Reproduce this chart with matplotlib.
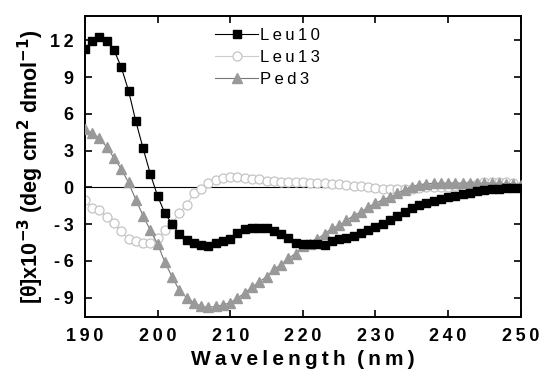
import matplotlib.pyplot as plt
import numpy as np

plt.rcParams['font.family'] = ['Liberation Sans', 'DejaVu Sans']

# wavelength (nm)
wl = np.arange(190, 251)

# [theta] x 10^-3
leu10 = [11.3, 11.95, 12.3, 11.95, 11.2, 9.8, 7.9, 5.4, 3.2, 1.1,
         -0.7, -2.1, -3.0, -3.8, -4.3, -4.5, -4.7, -4.75, -4.55, -4.4,
         -4.25, -3.75, -3.4, -3.35, -3.3, -3.3, -3.6, -3.8, -4.15, -4.5,
         -4.65, -4.6, -4.6, -4.7, -4.4, -4.25, -4.1, -3.95, -3.75, -3.5,
         -3.2, -3.0, -2.65, -2.35, -2.0, -1.7, -1.45, -1.25, -1.1, -0.95,
         -0.8, -0.7, -0.55, -0.45, -0.3, -0.2, -0.15, -0.1, -0.05, -0.05,
         -0.05]
leu13 = [-1.0, -1.7, -1.85, -2.4, -2.9, -3.6, -4.25, -4.4, -4.55, -4.5,
         -4.15, -3.5, -2.95, -2.1, -1.4, -0.5, -0.1, 0.35, 0.6, 0.75,
         0.85, 0.85, 0.73, 0.7, 0.65, 0.55, 0.5, 0.45, 0.45, 0.45,
         0.4, 0.38, 0.38, 0.33, 0.3, 0.28, 0.2, 0.15, 0.1, 0.0,
         -0.05, -0.1, -0.1, -0.1, -0.1, -0.1, -0.05, 0.0, 0.0, 0.0,
         0.05, 0.1, 0.15, 0.2, 0.3, 0.4, 0.45, 0.45, 0.4, 0.35,
         0.1]
ped3 = [4.8, 4.4, 4.0, 3.3, 2.4, 1.5, 0.4, -1.0, -2.3, -3.5,
        -4.6, -6.1, -7.3, -8.4, -9.0, -9.4, -9.7, -9.8, -9.7, -9.6,
        -9.4, -9.05, -8.6, -8.15, -7.7, -7.3, -6.7, -6.3, -5.8, -5.4,
        -4.8, -4.6, -4.2, -3.8, -3.35, -3.1, -2.7, -2.3, -2.0, -1.6,
        -1.3, -1.0, -0.8, -0.5, -0.2, 0.05, 0.2, 0.3, 0.33, 0.35,
        0.35, 0.35, 0.35, 0.35, 0.35, 0.35, 0.35, 0.33, 0.3, 0.3,
        0.2]

xticks = [190, 200, 210, 220, 230, 240, 250]
yticks = [-9, -6, -3, 0, 3, 6, 9, 12]

TS = '\u2009'  # thin space, the original text is letter-spaced


def spaced(s):
    return TS.join(s)


fig = plt.figure(figsize=(5.41, 3.75), dpi=100)
ax = fig.add_axes([0.157, 0.1555, 0.8055, 0.8025])

ax.axhline(0, color='black', lw=0.8, zorder=1)
ax.plot(wl, leu13, color='#cccccc', lw=0.8, marker='o', ms=6.5,
        mfc='white', mec='#c4c4c4', mew=0.9, label=spaced('Leu13'), zorder=2)
ax.plot(wl, ped3, color='#777777', lw=0.8, marker='^', ms=7.5,
        mfc='#999999', mec='#999999', label=spaced('Ped3'), zorder=3)
ax.plot(wl, leu10, color='black', lw=0.8, marker='s', ms=5.5,
        mfc='black', mec='black', label=spaced('Leu10'), zorder=4)

ax.set_xlim(190, 250)
ax.set_ylim(-10.55, 14)
ax.set_xticks(xticks)
ax.set_xticklabels([spaced(str(v)) for v in xticks])
ax.set_yticks(yticks)
ax.set_yticklabels([spaced(str(v)) for v in yticks])
ax.tick_params(direction='in', length=5, width=1.2, top=True, right=True,
               labelsize=13)
ax.tick_params(axis='x', pad=8.5)
ax.tick_params(axis='y', pad=8)
for lab in ax.get_xticklabels() + ax.get_yticklabels():
    lab.set_fontweight('bold')
for sp in ax.spines.values():
    sp.set_linewidth(1.4)

ax.set_xlabel(spaced('Wavelength') + '  ' + spaced('(nm)'),
              fontsize=15, fontweight='bold', labelpad=3)
ax.set_ylabel(r'[$\mathregular{\theta}$]x10$^{\mathbf{-3}}$ (deg cm$^{\mathbf{2}}$ dmol$^{\mathbf{-1}}$)',
              fontsize=15.5, fontweight='bold', labelpad=3)

h, l = ax.get_legend_handles_labels()
order = [2, 0, 1]
ax.legend([h[i] for i in order], [l[i] for i in order], loc='upper left',
          bbox_to_anchor=(0.27, 1.0), frameon=False, fontsize=12,
          handlelength=2.6, handletextpad=0.1, labelspacing=0.42,
          borderaxespad=0.35)

fig.savefig('out.png', dpi=100)
